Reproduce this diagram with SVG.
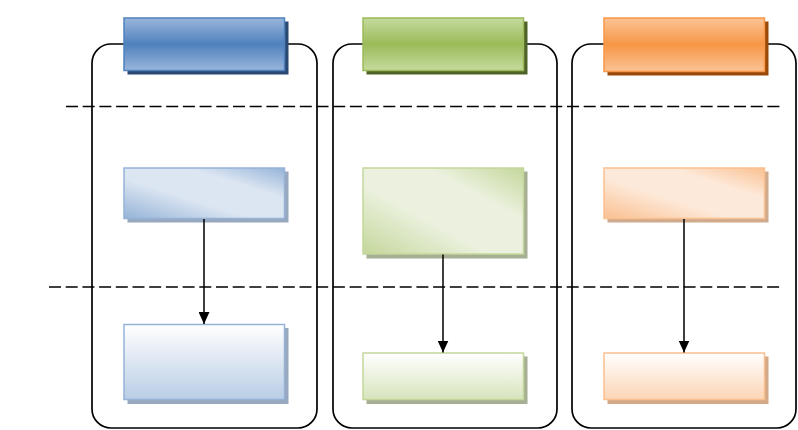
<svg xmlns="http://www.w3.org/2000/svg" width="798" height="430" viewBox="0 0 798 430">
<defs>
<style>
.lane{fill:#fff;stroke:#000;stroke-width:1.7}
.dash{stroke:#000;stroke-width:1.6;stroke-dasharray:12,4.7;fill:none}
.conn{stroke:#000;stroke-width:1.5;fill:none}
</style>
<linearGradient id="hb" x1="0" y1="0" x2="0" y2="1"><stop offset="0" stop-color="#9ab6db"/><stop offset="0.5" stop-color="#4f81bd"/><stop offset="1" stop-color="#9ab6db"/></linearGradient>
<linearGradient id="hg" x1="0" y1="0" x2="0" y2="1"><stop offset="0" stop-color="#c6da9e"/><stop offset="0.5" stop-color="#9bbb59"/><stop offset="1" stop-color="#c6da9e"/></linearGradient>
<linearGradient id="ho" x1="0" y1="0" x2="0" y2="1"><stop offset="0" stop-color="#fbc394"/><stop offset="0.5" stop-color="#f79646"/><stop offset="1" stop-color="#fbc394"/></linearGradient>
<linearGradient id="mb" x1="0" y1="1" x2="1" y2="0"><stop offset="0" stop-color="#95b3d7"/><stop offset="0.4" stop-color="#dce6f2"/><stop offset="0.7" stop-color="#dce6f2"/><stop offset="1" stop-color="#95b3d7"/></linearGradient>
<linearGradient id="mg" x1="0" y1="1" x2="1" y2="0"><stop offset="0" stop-color="#c4d79b"/><stop offset="0.4" stop-color="#ebf1de"/><stop offset="0.7" stop-color="#ebf1de"/><stop offset="1" stop-color="#c4d79b"/></linearGradient>
<linearGradient id="mo" x1="0" y1="1" x2="1" y2="0"><stop offset="0" stop-color="#fac090"/><stop offset="0.4" stop-color="#fde9d9"/><stop offset="0.7" stop-color="#fde9d9"/><stop offset="1" stop-color="#fac090"/></linearGradient>
<linearGradient id="bb" x1="0" y1="0" x2="0" y2="1"><stop offset="0" stop-color="#ffffff"/><stop offset="1" stop-color="#b9cde5"/></linearGradient>
<linearGradient id="bg" x1="0" y1="0" x2="0" y2="1"><stop offset="0" stop-color="#ffffff"/><stop offset="1" stop-color="#d7e4bd"/></linearGradient>
<linearGradient id="bo" x1="0" y1="0" x2="0" y2="1"><stop offset="0" stop-color="#ffffff"/><stop offset="1" stop-color="#fcd5b5"/></linearGradient>
<marker id="arr" viewBox="0 0 12 11" refX="12" refY="5.5" markerWidth="12" markerHeight="11" markerUnits="userSpaceOnUse" orient="auto"><path d="M0,0 L12,5.5 L0,11 z" fill="#000"/></marker>
</defs>
<rect width="798" height="430" fill="#fff"/>
<g id="lanes">
<rect id="lane1" class="lane" x="92" y="44" width="225" height="384" rx="19"/>
<rect id="lane2" class="lane" x="333" y="44" width="224" height="384" rx="19"/>
<rect id="lane3" class="lane" x="572" y="44" width="224" height="384" rx="19"/>
</g>
<g id="dividers">
<line class="dash" x1="66" y1="106.5" x2="783" y2="106.5"/>
<line class="dash" x1="49" y1="287" x2="783" y2="287"/>
</g>
<g id="h1"><rect x="127.5" y="21.5" width="161" height="53" fill="#2b4a73"/><rect x="124" y="18" width="160.5" height="52.5" fill="url(#hb)" stroke="#4f81bd" stroke-width="1.5"/></g>
<g id="h2"><rect x="366.5" y="21.5" width="161" height="53" fill="#4f6228"/><rect x="363" y="18" width="160.5" height="52.5" fill="url(#hg)" stroke="#9bbb59" stroke-width="1.5"/></g>
<g id="h3"><rect x="607.5" y="21.5" width="161" height="54" fill="#984807"/><rect x="604" y="18" width="160.5" height="53.5" fill="url(#ho)" stroke="#f79646" stroke-width="1.5"/></g>
<g id="m1"><rect x="127.5" y="171.5" width="161" height="51" fill="#98a8bf"/><rect x="124" y="168" width="160.5" height="50.5" fill="url(#mb)" stroke="#95b3d7" stroke-width="1.5"/></g>
<g id="m2"><rect x="366.5" y="171.5" width="161" height="87" fill="#a6ae93"/><rect x="363" y="168" width="160.5" height="86" fill="url(#mg)" stroke="#c4d79b" stroke-width="1.5"/></g>
<g id="m3"><rect x="607.5" y="171.5" width="161" height="51" fill="#cfaa8c"/><rect x="604" y="168" width="160.5" height="50.5" fill="url(#mo)" stroke="#fac090" stroke-width="1.5"/></g>
<g id="b1"><rect x="127.5" y="328" width="161" height="76" fill="#98a8bf"/><rect x="124" y="324.5" width="160.5" height="75" fill="url(#bb)" stroke="#95b3d7" stroke-width="1.5"/></g>
<g id="b2"><rect x="366.5" y="356.5" width="161" height="47.5" fill="#a6ae93"/><rect x="363" y="353" width="160.5" height="46.5" fill="url(#bg)" stroke="#c4d79b" stroke-width="1.5"/></g>
<g id="b3"><rect x="607.5" y="356.5" width="161" height="47.5" fill="#d4a987"/><rect x="604" y="353" width="160.5" height="46.5" fill="url(#bo)" stroke="#fac090" stroke-width="1.5"/></g>
<g id="connectors">
<line class="conn" x1="204" y1="219" x2="204" y2="324" marker-end="url(#arr)"/>
<line class="conn" x1="443" y1="254.5" x2="443" y2="352.5" marker-end="url(#arr)"/>
<line class="conn" x1="684" y1="219" x2="684" y2="352.5" marker-end="url(#arr)"/>
</g>
</svg>
